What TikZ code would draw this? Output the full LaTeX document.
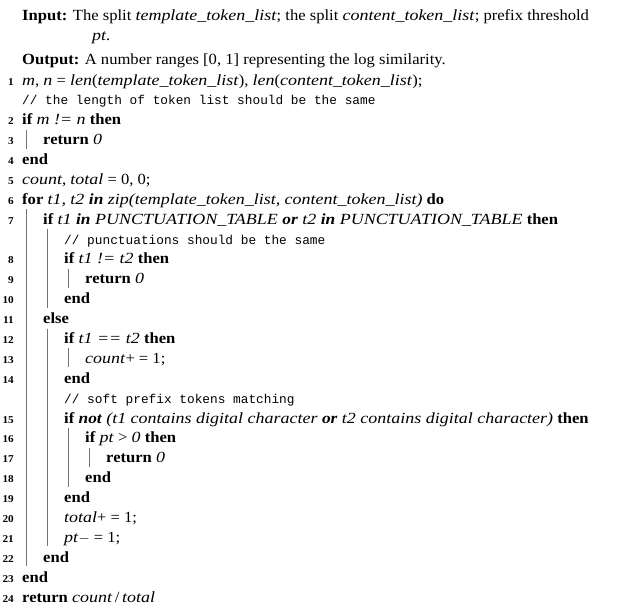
\documentclass[tikz,border=0pt]{standalone}
\usepackage{fontspec}
\setmainfont{Liberation Serif}[FakeStretch=1.07,ItalicFeatures={FakeStretch=1.16},BoldItalicFeatures={FakeStretch=1.12}]
\setmonofont{Liberation Mono}
\begin{document}
\begin{tikzpicture}[x=1pt,y=-1pt,
  txt/.style={anchor=base west,inner sep=0pt,font=\fontsize{15.5}{18}\selectfont},
  num/.style={anchor=base east,inner sep=0pt,font=\fontsize{10.5}{12}\selectfont\bfseries},
  cmt/.style={anchor=base west,inner sep=0pt,font=\fontsize{12.8}{15}\ttfamily},
  bar/.style={draw=black!55,line width=0.8pt}]
\useasboundingbox (0,0) rectangle (619,611);
\newcommand\rowy[1]{80+19.885*#1}
\newcommand\lx[1]{22+21*#1}
\newcommand\R[4]{%
  \node[num] (n#1) at (14,{\rowy{#1}+5}) {#3};
  \node[txt] (t#1) at ({\lx{#2}},{\rowy{#1}+5}) {#4};}
\newcommand\C[3]{\node[cmt] (t#1) at ({\lx{#2}},{\rowy{#1}+5}) {#3};}
\newcommand\B[3]{\draw[bar] ({\lx{#1}+4},{\rowy{#2}-10}) coordinate (b#2a) -- ({\lx{#1}+4},{\rowy{#3}+9}) coordinate (b#2b);}
\node[txt] (in) at (22,20) {\textbf{Input:} The split \textit{template\_token\_list}; the split \textit{content\_token\_list}; prefix threshold};
\node[txt] (in2) at (92,40) {\textit{pt}.};
\node[txt] (out) at (22,64) {\textbf{Output:} A number ranges [0, 1] representing the log similarity.};
\R{0}{0}{1}{\textit{m}, \textit{n} = \textit{len}(\textit{template\_token\_list}), \textit{len}(\textit{content\_token\_list});}
\C{1}{0}{// the length of token list should be the same}
\R{2}{0}{2}{\textbf{if} \textit{m != n} \textbf{then}}
\R{3}{1}{3}{\textbf{return} \textit{0}}
\R{4}{0}{4}{\textbf{end}}
\R{5}{0}{5}{\textit{count}, \textit{total} = 0, 0;}
\R{6}{0}{6}{\textbf{for} \textit{t1, t2 \textbf{in} zip(template\_token\_list, content\_token\_list)} \textbf{do}}
\R{7}{1}{7}{\textbf{if} \textit{t1 \textbf{in} PUNCTUATION\_TABLE \textbf{or} t2 \textbf{in} PUNCTUATION\_TABLE} \textbf{then}}
\C{8}{2}{// punctuations should be the same}
\R{9}{2}{8}{\textbf{if} \textit{t1 != t2} \textbf{then}}
\R{10}{3}{9}{\textbf{return} \textit{0}}
\R{11}{2}{10}{\textbf{end}}
\R{12}{1}{11}{\textbf{else}}
\R{13}{2}{12}{\textbf{if} \textit{t1 == t2} \textbf{then}}
\R{14}{3}{13}{\textit{count}+ = 1;}
\R{15}{2}{14}{\textbf{end}}
\C{16}{2}{// soft prefix tokens matching}
\R{17}{2}{15}{\textbf{if} \textit{\textbf{not} (t1 contains digital character \textbf{or} t2 contains digital character)} \textbf{then}}
\R{18}{3}{16}{\textbf{if} \textit{pt} > \textit{0} \textbf{then}}
\R{19}{4}{17}{\textbf{return} \textit{0}}
\R{20}{3}{18}{\textbf{end}}
\R{21}{2}{19}{\textbf{end}}
\R{22}{2}{20}{\textit{total}+ = 1;}
\R{23}{2}{21}{\textit{pt}$-$ = 1;}
\R{24}{1}{22}{\textbf{end}}
\R{25}{0}{23}{\textbf{end}}
\R{26}{0}{24}{\textbf{return} \textit{count}\,/\,\textit{total}}
\B{0}{3}{3}
\B{0}{7}{24}
\B{1}{8}{11}
\B{1}{13}{23}
\B{2}{10}{10}
\B{2}{14}{14}
\B{2}{18}{20}
\B{3}{19}{19}
\end{tikzpicture}
\end{document}
